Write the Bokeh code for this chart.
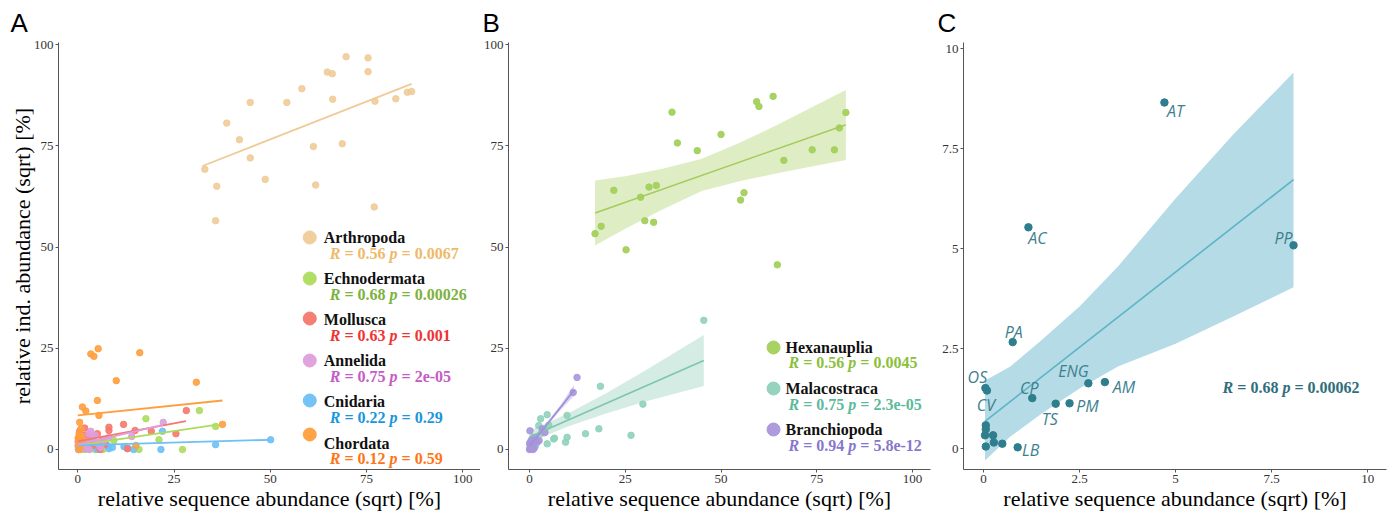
from bokeh.plotting import figure
from bokeh.layouts import row
from bokeh.models import FixedTicker, CustomJSTickFormatter, Range1d
from bokeh.embed import file_html
from bokeh.resources import INLINE
from bokeh.core.properties import value

SERIF = "Liberation Serif"
SANS = "Liberation Sans"

# ---------------- Panel A data ----------------
phyla = ["Arthropoda", "Echnodermata", "Mollusca", "Annelida", "Cnidaria", "Chordata"]
phyla_R = ["0.56", "0.68", "0.63", "0.75", "0.22", "0.12"]
phyla_p = ["0.0067", "0.00026", "0.001", "2e-05", "0.29", "0.59"]

arth_x = [33.0, 36.1, 35.8, 38.7, 42.0, 44.8, 44.8, 48.7, 54.3, 58.2, 61.2, 61.8, 64.8, 66.1,
          66.2, 68.7, 69.7, 75.4, 75.4, 77.2, 77.0, 82.6, 85.6, 86.7]
arth_y = [69.2, 65.0, 56.5, 80.6, 76.5, 85.7, 72.0, 66.7, 85.7, 89.1, 74.8, 65.3, 93.2, 92.8,
          86.5, 75.5, 97.0, 96.7, 93.3, 86.0, 59.9, 86.6, 88.2, 88.4]
echi_x = [31.6, 17.7, 35.8, 21.1, 27.2, 15.9, 9.4, 3.4, 0.2, 0.5, 1.0, 1.5, 2.2, 3.0, 4.5, 5.5,
          0.3, 0.8, 1.8, 6.5, 0.1, 2.5]
echi_y = [9.6, 7.6, 5.7, 2.4, 0.0, 0.0, 2.2, 0.2, 0.3, 1.0, 0.0, 2.0, 0.5, 0.0, 0.0, 1.0,
          1.5, 0.4, 0.0, 0.0, 0.8, 1.2]
moll_x = [28.2, 11.9, 8.1, 8.1, 14.9, 19.1, 25.5, 12.9, 5.8, 1.8, 0.3, 5.1, 0.5, 1.0, 2.5, 3.5,
          4.0, 0.2, 1.5, 6.5, 7.0, 2.0]
moll_y = [9.6, 6.2, 4.7, 5.5, 4.7, 4.5, 3.9, 0.2, 0.0, 5.3, 3.0, 3.9, 4.5, 2.2, 1.5, 2.8,
          1.0, 1.8, 0.5, 2.5, 1.2, 3.5]
anne_x = [22.2, 14.0, 2.9, 0.8, 3.4, 6.8, 0.2, 0.5, 1.2, 2.0, 4.0, 5.0, 0.3, 1.5, 2.5, 3.0,
          0.1, 6.0, 4.5, 1.0, 0.6, 8.0]
anne_y = [6.7, 3.2, 3.9, 3.2, 4.5, 2.2, 0.5, 1.5, 2.5, 1.0, 2.8, 1.6, 0.0, 0.3, 2.0, 0.0,
          1.0, 0.5, 3.5, 0.8, 2.0, 2.9]
cnid_x = [50.1, 35.8, 22.0, 21.6, 8.1, 12.0, 14.5, 7.7, 0.2, 0.5, 1.0, 2.0, 3.0, 4.5, 5.0, 0.3,
          1.5, 6.0, 0.1, 2.5, 9.0, 13.0]
cnid_y = [2.4, 1.2, 4.5, 0.0, 0.2, 0.7, 0.0, 1.0, 0.0, 0.3, 1.2, 0.2, 0.8, 1.5, 0.0, 0.8,
          0.5, 1.0, 2.0, 2.2, 0.5, 0.3]
chor_x = [3.4, 4.2, 5.3, 16.1, 10.0, 30.8, 5.1, 1.2, 2.1, 5.5, 0.5, 37.6, 15.1, 0.8, 0.35, 0.1,
          0.2, 0.6, 1.0, 0.3, 1.5]
chor_y = [23.6, 23.0, 24.9, 23.9, 17.0, 16.6, 12.1, 10.5, 9.5, 8.4, 6.7, 6.2, 1.0, 5.1, 3.9, 2.8,
          1.5, 0.5, 3.2, 0.0, 2.0]
# fitted lines: [x_start, x_end], [y_start, y_end]
arth_fit_x, arth_fit_y = [32.4, 86.7], [70.0, 90.3]
echi_fit_x, echi_fit_y = [0.0, 35.8], [1.0, 6.1]
moll_fit_x, moll_fit_y = [0.0, 28.1], [2.0, 7.0]
anne_fit_x, anne_fit_y = [0.0, 22.2], [1.2, 6.1]
cnid_fit_x, cnid_fit_y = [0.0, 50.1], [1.0, 2.4]
chor_fit_x, chor_fit_y = [0.0, 37.6], [8.4, 12.1]

# ---------------- Panel B data ----------------
classes = ["Hexanauplia", "Malacostraca", "Branchiopoda"]
classes_R = ["0.56", "0.75", "0.94"]
classes_p = ["0.0045", "2.3e-05", "5.8e-12"]
hexa_x = [17.1, 18.7, 22.0, 25.2, 29.0, 30.1, 31.2, 32.4, 33.1, 37.2, 38.6, 43.8, 50.0, 55.1,
          56.0, 59.3, 59.9, 63.6, 64.7, 66.4, 73.8, 79.6, 80.9, 82.6]
hexa_y = [53.3, 55.1, 64.0, 49.3, 62.3, 56.5, 64.8, 56.1, 65.2, 83.3, 75.7, 73.8, 77.8, 61.6,
          63.4, 85.9, 84.7, 87.2, 45.6, 71.4, 74.0, 74.0, 79.4, 83.2]
mala_x = [45.5, 18.5, 29.6, 9.8, 4.6, 2.9, 14.6, 18.1, 26.5, 9.8, 9.4, 6.3, 2.4, 4.6, 1.0, 0.5,
          2.0, 3.0, 4.0, 6.5, 1.5, 0.8, 5.0]
mala_y = [31.9, 15.6, 11.2, 8.4, 8.6, 7.6, 3.9, 5.1, 3.5, 3.0, 1.8, 2.6, 5.9, 1.4, 3.0, 1.5,
          2.0, 4.0, 5.0, 2.8, 0.8, 2.5, 6.0]
bran_x = [12.4, 11.4, 0.1, 3.3, 0.0, 0.2, 0.5, 0.3, 0.8, 1.2, 0.1, 0.4, 0.6, 2.0, 1.5, 0.2,
          2.5, 0.9, 0.0, 4.0]
bran_y = [17.8, 14.1, 4.6, 5.1, 0.0, 1.0, 0.5, 2.0, 1.5, 0.3, 0.2, 1.2, 2.5, 1.8, 3.0, 0.8,
          2.2, 0.0, 1.5, 4.2]
hexa_fit_x, hexa_fit_y = [17.1, 82.6], [58.4, 80.2]
hexa_band_x = [17.1, 25.0, 35.0, 45.0, 55.0, 65.0, 75.0, 82.6]
hexa_band_lo = [50.4, 54.5, 59.4, 63.8, 66.3, 68.3, 70.1, 71.5]
hexa_band_hi = [66.4, 67.5, 69.4, 71.8, 75.8, 80.3, 85.1, 88.8]
mala_fit_x, mala_fit_y = [0.0, 45.5], [3.1, 22.0]
mala_band_x = [0.0, 5.0, 10.0, 20.0, 30.0, 45.5]
mala_band_lo = [1.3, 3.7, 5.7, 8.9, 11.8, 15.7]
mala_band_hi = [4.9, 6.7, 8.9, 13.9, 19.4, 28.3]
bran_fit_x, bran_fit_y = [0.0, 11.6], [0.8, 14.6]
bran_band_x = [0.0, 4.0, 8.0, 11.6]
bran_band_lo = [0.2, 5.2, 9.6, 13.2]
bran_band_hi = [1.4, 6.0, 10.8, 16.0]

# ---------------- Panel C data ----------------
species = ["AT", "AC", "PP", "PA", "OS", "CV", "CP", "ENG", "AM", "TS", "PM", "LB",
           "", "", "", "", "", "", ""]
species_x = [4.71, 1.17, 8.07, 0.76, 0.05, 0.09, 1.27, 2.73, 3.16, 1.88, 2.24, 0.89,
             0.06, 0.06, 0.04, 0.25, 0.27, 0.49, 0.06]
species_y = [8.65, 5.53, 5.08, 2.66, 1.51, 1.45, 1.26, 1.63, 1.66, 1.12, 1.13, 0.03,
             0.58, 0.48, 0.33, 0.33, 0.15, 0.12, 0.05]
species_R, species_p = "0.68", "0.00062"
spec_fit_x, spec_fit_y = [0.04, 8.07], [0.68, 6.72]
spec_band_x = [0.04, 0.7, 1.5, 2.5, 3.5, 5.0, 6.5, 8.07]
spec_band_lo = [-0.30, 0.30, 0.86, 1.50, 2.05, 2.62, 3.30, 4.03]
spec_band_hi = [1.70, 2.05, 2.70, 3.55, 4.55, 6.25, 7.85, 9.40]

# label offsets (pixels) for the repelled labels in C
lab_dx = [11, 9, -10, 1, -8, -1, -3, -15, 19, -6, 18, 13, 0, 0, 0, 0, 0, 0, 0]
lab_dy = [8, 11, -7, -10, -11, 14, -10, -12, 5, 15, 3, 3, 0, 0, 0, 0, 0, 0, 0]

# ---------------- styling ----------------
A_pt = ["#EFCB98", "#ADDC5C", "#F6786C", "#DE9EDC", "#6EC0F6", "#FF9E3D"]
A_txt = ["#EDBA6A", "#7DB23E", "#EE3434", "#C45CC4", "#1A96DA", "#FF7416"]
B_pt = ["#A3D15C", "#8FD1BA", "#A996DB"]
B_txt = ["#8BBF3C", "#5DBA9C", "#8677CC"]
C_pt = "#2F7E8D"
C_line = "#5DB4C6"
C_band = "#A8D5E2"
C_txt = "#2F6E7B"
C_lab = "#3E7F8F"

FH = 513
TOP = 42
BOTTOM = 44

# per-glyph advance widths (em) of Liberation Serif Bold / Bold Italic
W_BOLD = {" ": 0.25, "=": 0.570, ".": 0.25, "e": 0.444, "-": 0.333}
W_BI = {"R": 0.667, "p": 0.5}


def wbold(s):
    return sum(W_BOLD.get(ch, 0.5) for ch in s)


def make_fig(width, xr, yr, left, right, letter, letter_off, xticks, ylabel=None):
    p = figure(width=width, height=FH, x_range=Range1d(*xr), y_range=Range1d(*yr),
               output_backend="svg", toolbar_location=None,
               min_border_left=left, min_border_right=right,
               min_border_top=TOP, min_border_bottom=BOTTOM)
    p.grid.visible = False
    p.outline_line_color = None
    p.title.text = letter
    p.title.align = "left"
    p.title.offset = letter_off
    p.title.text_font = SANS
    p.title.text_font_size = "26px"
    p.title.text_font_style = "normal"
    p.title.text_color = "black"
    p.title.standoff = 10
    fmt = CustomJSTickFormatter(code="return String(tick)")
    for ax, ticks in ((p.xaxis[0], xticks), (p.yaxis[0], xticks)):
        ax.ticker = FixedTicker(ticks=ticks)
        ax.formatter = fmt
        ax.axis_line_color = "#555555"
        ax.major_tick_line_color = "#555555"
        ax.minor_tick_line_color = None
        ax.major_tick_in = 0
        ax.major_tick_out = 3
        ax.major_label_standoff = 2
        ax.major_label_text_font = SERIF
        ax.major_label_text_font_size = "13px"
        ax.major_label_text_color = "#333333"
        ax.axis_label_text_font = SERIF
        ax.axis_label_text_font_size = "22px"
        ax.axis_label_text_font_style = "normal"
        ax.axis_label_text_color = "black"
    p.xaxis.axis_label = "relative sequence abundance (sqrt) [%]"
    p.xaxis.axis_label_standoff = 0
    if ylabel:
        p.yaxis.axis_label = ylabel
        p.yaxis.axis_label_standoff = -4
    return p


def stat_line(p, x, y, R, pv, color, size=16):
    px = size
    xs = [0.0,
          (W_BI["R"] + W_BOLD[" "]) * px,
          (W_BI["R"] + wbold(" = " + R + " ")) * px,
          (W_BI["R"] + wbold(" = " + R + " ") + W_BI["p"] + W_BOLD[" "]) * px]
    pieces = ["R", "= " + R, "p", "= " + pv]
    styles = ["bold italic", "bold", "bold italic", "bold"]
    for off, t, st in zip(xs, pieces, styles):
        p.text(x=[x], y=[y], text=[t], x_offset=off, text_font=value(SERIF),
               text_font_size=f"{size}px", text_font_style=st, text_color=color,
               text_align="left", text_baseline="middle")


def legend_block(p, conv, mx, nx, sx, my, ny, sy, names, Rs, ps, pt_cols, txt_cols, msize):
    cx, cy = conv
    for i, nm in enumerate(names):
        p.scatter(x=[cx(mx)], y=[cy(my[i])], size=msize, color=pt_cols[i], alpha=0.95)
        p.text(x=[cx(nx)], y=[cy(ny[i])], text=[nm], text_font=value(SERIF), text_font_size="16px",
               text_font_style="bold", text_color="#111111", text_align="left",
               text_baseline="middle")
        stat_line(p, cx(sx), cy(sy[i]), Rs[i], ps[i], txt_cols[i])


# ---------------- Panel A ----------------
pA = make_fig(480, (-5.0, 104.6), (-4.94, 100.5), 58, 0, "A", -48, [0, 25, 50, 75, 100],
              ylabel="relative ind. abundance (sqrt) [%]")
A_sets = [(arth_x, arth_y, arth_fit_x, arth_fit_y), (echi_x, echi_y, echi_fit_x, echi_fit_y),
          (moll_x, moll_y, moll_fit_x, moll_fit_y), (anne_x, anne_y, anne_fit_x, anne_fit_y),
          (cnid_x, cnid_y, cnid_fit_x, cnid_fit_y), (chor_x, chor_y, chor_fit_x, chor_fit_y)]
for i in [0, 1, 4, 2, 3, 5]:
    xs, ys, fx, fy = A_sets[i]
    pA.scatter(x=xs, y=ys, size=6.5, color=A_pt[i], alpha=0.9)
for i in [0, 1, 4, 2, 3, 5]:
    xs, ys, fx, fy = A_sets[i]
    pA.line(x=fx, y=fy, line_color=A_pt[i], line_width=1.8)
convA = (lambda px: (px - 77) / 3.85, lambda py: (449 - py) / 4.05)
legend_block(pA, convA, 309, 323, 329,
             [237, 278, 318, 360, 400, 434], [237, 278, 319, 360, 401, 443],
             [253, 294, 335, 376, 417, 458], phyla, phyla_R, phyla_p, A_pt, A_txt, 13)

# ---------------- Panel B ----------------
pB = make_fig(455, (-5.5, 104.7), (-4.94, 100.5), 28, 5, "B", -26, [0, 25, 50, 75, 100])
pB.varea(x=hexa_band_x, y1=hexa_band_lo, y2=hexa_band_hi, fill_color="#A3CC5A", fill_alpha=0.35)
pB.varea(x=mala_band_x, y1=mala_band_lo, y2=mala_band_hi, fill_color="#7CC6AE", fill_alpha=0.33)
pB.varea(x=bran_band_x, y1=bran_band_lo, y2=bran_band_hi, fill_color="#A996DB", fill_alpha=0.4)
pB.scatter(x=hexa_x, y=hexa_y, size=6.5, color=B_pt[0], alpha=0.95)
pB.scatter(x=mala_x, y=mala_y, size=6.5, color=B_pt[1], alpha=0.9)
pB.scatter(x=bran_x, y=bran_y, size=6.5, color=B_pt[2], alpha=0.9)
pB.line(x=hexa_fit_x, y=hexa_fit_y, line_color="#A3CC5A", line_width=1.6)
pB.line(x=mala_fit_x, y=mala_fit_y, line_color="#7CC6AE", line_width=1.6)
pB.line(x=bran_fit_x, y=bran_fit_y, line_color="#A28FDA", line_width=1.8)
convB = (lambda px: (px - 529) / 3.83, lambda py: (449 - py) / 4.05)
legend_block(pB, convB, 773, 785, 788, [347, 388, 429], [347, 388, 429], [362, 404, 445],
             classes, classes_R, classes_p, B_pt, B_txt, 13)

# ---------------- Panel C ----------------
pC = make_fig(459, (-0.52, 10.49), (-0.525, 10.15), 28, 8, "C", -26, [0, 2.5, 5, 7.5, 10])
pC.varea(x=spec_band_x, y1=spec_band_lo, y2=spec_band_hi, fill_color=C_band, fill_alpha=0.85)
pC.line(x=spec_fit_x, y=spec_fit_y, line_color=C_line, line_width=1.6)
pC.scatter(x=species_x, y=species_y, size=7.5, color=C_pt)
for i, nm in enumerate(species):
    if nm:
        pC.text(x=[species_x[i]], y=[species_y[i]], text=[nm], x_offset=lab_dx[i], y_offset=lab_dy[i],
                text_font=value("Open Sans"), text_font_size="16px", text_font_style="italic",
                text_color=C_lab, text_align="center", text_baseline="middle")
convC = (lambda px: (px - 983) / 38.4, lambda py: (448 - py) / 40.0)
stat_line(pC, convC[0](1222), convC[1](387), species_R, species_p, C_txt, size=16)

layout = row(pA, pB, pC)
open("out.html", "w").write(file_html(layout, INLINE))
